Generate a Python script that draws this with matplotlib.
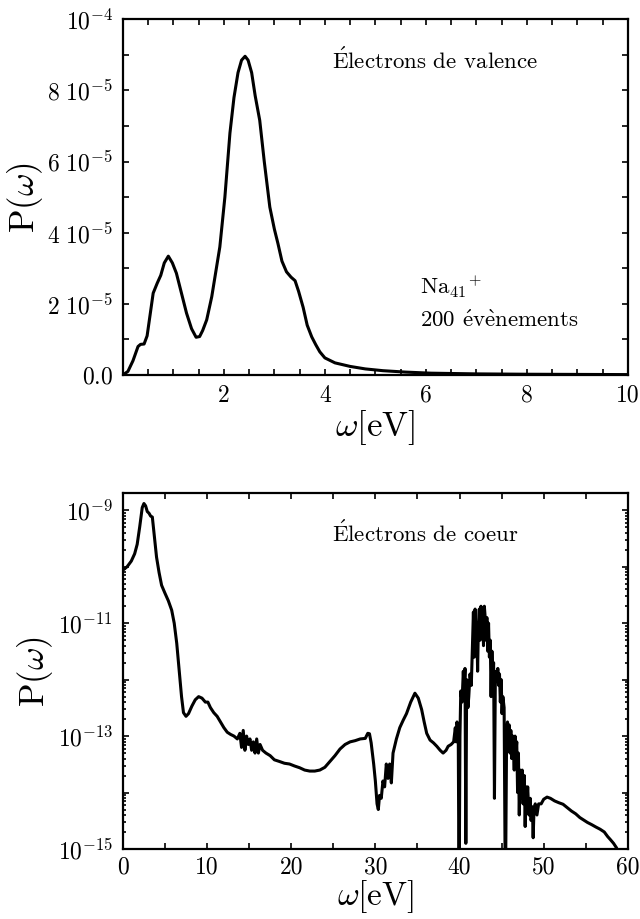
import matplotlib
matplotlib.use("Agg")
import matplotlib.pyplot as plt
from matplotlib.ticker import MultipleLocator, LogLocator, NullFormatter

plt.rcParams['font.family'] = 'serif'
plt.rcParams['font.serif'] = ['cmr10', 'DejaVu Serif']
plt.rcParams['mathtext.fontset'] = 'cm'
plt.rcParams['axes.unicode_minus'] = False

# valence electrons, linear spectrum
w_val = [0.0, 0.1, 0.2, 0.3, 0.35, 0.42, 0.48, 0.55, 0.6, 0.68, 0.75, 0.82, 0.9,
         0.98, 1.06, 1.16, 1.26, 1.36, 1.45, 1.52, 1.58, 1.66, 1.76, 1.84, 1.92,
         2.02, 2.12, 2.2, 2.28, 2.35, 2.42, 2.48, 2.55, 2.62, 2.71, 2.8, 2.91,
         3.0, 3.07, 3.15, 3.24, 3.33, 3.41, 3.48, 3.57, 3.65, 3.74, 3.82, 3.9,
         4.0, 4.2, 4.5, 4.8, 5.15, 5.6, 6.1, 7.0, 8.0, 9.0, 10.0]
p_val = [0.0, 0.1e-5, 0.4e-5, 0.8e-5, 0.86e-5, 0.87e-5, 1.1e-5, 1.8e-5, 2.3e-5,
         2.58e-5, 2.8e-5, 3.15e-5, 3.34e-5, 3.15e-5, 2.86e-5, 2.3e-5, 1.74e-5,
         1.3e-5, 1.06e-5, 1.08e-5, 1.25e-5, 1.55e-5, 2.2e-5, 2.9e-5, 3.6e-5,
         5.0e-5, 6.8e-5, 7.8e-5, 8.5e-5, 8.85e-5, 8.96e-5, 8.85e-5, 8.5e-5,
         7.85e-5, 7.16e-5, 6.0e-5, 4.72e-5, 4.1e-5, 3.7e-5, 3.2e-5, 2.9e-5,
         2.75e-5, 2.65e-5, 2.35e-5, 1.9e-5, 1.4e-5, 1.07e-5, 0.85e-5, 0.65e-5,
         0.48e-5, 0.34e-5, 0.24e-5, 0.17e-5, 0.12e-5, 0.08e-5, 0.05e-5,
         0.03e-5, 0.02e-5, 0.015e-5, 0.01e-5]

# core electrons, log spectrum
w_core = [0.0, 0.5, 1.0, 1.4, 1.7, 2.0, 2.3, 2.5, 2.7, 2.9, 3.1, 3.3, 3.5, 3.7,
          4.0, 4.3, 4.6, 5.0, 5.4, 5.8, 6.1, 6.4, 6.7, 6.97, 7.2, 7.5, 7.8,
          8.2, 8.6, 9.0, 9.4, 9.8, 10.1, 10.4, 10.8, 11.2, 11.6, 12.0, 12.4,
          12.8, 13.2, 13.6, 13.9, 14.1, 14.3, 14.5, 14.7, 14.9, 15.1, 15.3,
          15.5, 15.7, 15.9, 16.1, 16.3, 16.6, 17.0, 17.5, 18.0, 18.6, 19.2,
          19.8, 20.4, 21.0, 21.6, 22.2, 22.8, 23.4, 24.0, 24.6, 25.2, 25.8,
          26.4, 27.0, 27.6, 28.2, 28.8, 29.1, 29.3, 29.5, 29.8, 30.0, 30.2,
          30.35, 30.5, 30.7, 30.9, 31.1, 31.3, 31.5, 31.7, 31.9, 32.1, 32.5,
          32.9, 33.3, 33.7, 34.2, 34.7, 35.1, 35.5, 35.8, 36.1, 36.5, 36.9,
          37.3, 37.7, 38.05, 38.4, 38.65, 39.0, 39.3, 39.5, 39.6, 39.7, 39.85,
          39.95, 40.05, 40.15, 40.3, 40.45, 40.55, 40.65, 40.75, 40.85, 41.0,
          41.1, 41.25, 41.4, 41.55, 41.65, 41.75, 41.85, 41.95, 42.05, 42.15,
          42.25, 42.35, 42.45, 42.55, 42.65, 42.75, 42.85, 42.95, 43.05, 43.15,
          43.25, 43.35, 43.45, 43.55, 43.65, 43.75, 43.85, 43.95, 44.05, 44.15,
          44.25, 44.35, 44.45, 44.55, 44.65, 44.75, 44.85, 44.95, 45.05, 45.15,
          45.3, 45.45, 45.6, 45.7, 45.8, 45.9, 46.0, 46.1, 46.2, 46.35, 46.5,
          46.6, 46.7, 46.8, 46.9, 47.0, 47.1, 47.2, 47.35, 47.45, 47.55, 47.7,
          47.8, 47.9, 48.0, 48.1, 48.25, 48.4, 48.5, 48.65, 48.75, 48.85, 49.0,
          49.2, 49.4, 49.7, 50.0, 50.4, 50.8, 51.3, 51.8, 52.3, 52.8, 53.3,
          53.8, 54.3, 54.7, 55.2, 55.7, 56.2, 56.7, 57.2, 57.6, 57.9, 58.3,
          58.65, 59.0]
p_core = [8.7e-11, 1.0e-10, 1.26e-10, 1.7e-10, 2.5e-10, 5.1e-10, 1.12e-9,
          1.32e-9, 1.2e-9, 9.5e-10, 8.9e-10, 7.9e-10, 7.6e-10, 4.0e-10,
          1.48e-10, 7.9e-11, 4.7e-11, 3.4e-11, 2.5e-11, 1.7e-11, 1.0e-11,
          4.4e-12, 1.4e-12, 5.0e-13, 2.6e-13, 2.24e-13, 2.5e-13, 3.4e-13,
          4.4e-13, 5.0e-13, 4.7e-13, 4.0e-13, 4.0e-13, 3.2e-13, 2.6e-13,
          2.24e-13, 1.78e-13, 1.41e-13, 1.17e-13, 1.07e-13, 1.0e-13, 8.9e-14,
          1.12e-13, 6.3e-14, 1.26e-13, 5.6e-14, 1.0e-13, 7.1e-14, 8.9e-14,
          5.6e-14, 7.9e-14, 5.0e-14, 8.9e-14, 5.0e-14, 7.1e-14, 5.6e-14,
          5.0e-14, 4.5e-14, 3.8e-14, 3.55e-14, 3.3e-14, 3.2e-14, 2.95e-14,
          2.75e-14, 2.5e-14, 2.4e-14, 2.4e-14, 2.5e-14, 2.8e-14, 3.55e-14,
          4.5e-14, 5.9e-14, 7.1e-14, 7.9e-14, 8.3e-14, 8.9e-14, 9.1e-14,
          1.12e-13, 1.1e-13, 7.6e-14, 3.2e-14, 1.6e-14, 6.3e-15, 5.0e-15,
          8.9e-15, 7.9e-15, 1.6e-14, 1.26e-14, 3.2e-14, 1.78e-14, 3.2e-14,
          1.48e-14, 5.0e-14, 8.9e-14, 1.41e-13, 1.9e-13, 2.5e-13, 4.0e-13,
          5.75e-13, 4.7e-13, 2.95e-13, 1.78e-13, 1.12e-13, 8.5e-14, 7.6e-14,
          6.6e-14, 5.6e-14, 5.0e-14, 5.6e-14, 6.6e-14, 7.1e-14, 7.9e-14,
          1.41e-13, 7.9e-14, 1.78e-13, 1.0e-13,
          1e-16, 1.0e-13, 6.3e-13, 4.0e-13, 1.41e-12, 6.3e-13, 1.58e-12,
          1.26e-15, 1.0e-12, 3.2e-13, 5.0e-13, 1.26e-12, 7.9e-13, 5.0e-12,
          1.58e-11, 2.5e-12, 1.78e-11, 4.0e-12, 1.0e-11, 1.41e-12, 1.0e-11,
          1.78e-11, 5.0e-12, 2.0e-11, 6.3e-12, 1.58e-11, 4.0e-12, 2.0e-11,
          1.26e-11, 5.0e-12, 1.26e-11, 3.2e-12, 1.0e-11, 2.5e-12, 5.0e-12,
          5.0e-13, 3.2e-12, 1.0e-12, 2.0e-12, 7.9e-15, 7.9e-13, 1.41e-12,
          1.0e-12, 1.58e-12, 7.9e-13, 1.26e-12, 4.0e-13, 1.0e-12, 2.5e-13,
          5.0e-13, 3.2e-13, 1e-16, 1.26e-13, 1.78e-13, 7.9e-14, 1.58e-13,
          5.0e-14, 1.26e-13, 4.0e-14, 1.0e-13, 2.5e-14, 1.0e-13, 5.0e-14,
          7.9e-14, 1.0e-14, 5.0e-14, 4.0e-15, 2.5e-14, 7.9e-15, 2.5e-14,
          6.3e-15, 2.0e-14, 2.5e-15, 1.26e-14, 6.3e-15, 1.26e-14, 4.0e-15,
          7.9e-15, 3.2e-15, 5.6e-15, 1.58e-15, 5.0e-15, 6.3e-15, 4.0e-15,
          6.3e-15, 6.3e-15, 7.6e-15, 8.3e-15, 7.9e-15, 7.1e-15, 6.6e-15,
          6.2e-15, 5.4e-15, 4.7e-15, 4.2e-15, 3.6e-15, 3.3e-15, 2.95e-15,
          2.7e-15, 2.45e-15, 2.24e-15, 2.0e-15, 1.66e-15, 1.48e-15, 1.26e-15,
          1.05e-15, 8e-16]

val_ticks = [0, 2e-5, 4e-5, 6e-5, 8e-5, 1e-4]
val_labels = [r'$0.0$', r'$2\ 10^{-5}$', r'$4\ 10^{-5}$', r'$6\ 10^{-5}$',
              r'$8\ 10^{-5}$', r'$10^{-4}$']
core_ticks = [1e-15, 1e-13, 1e-11, 1e-9]
core_labels = [r'$10^{-15}$', r'$10^{-13}$', r'$10^{-11}$', r'$10^{-9}$']

fig = plt.figure(figsize=(6.4, 9.19), dpi=100)
ax1 = fig.add_axes([0.192, 0.592, 0.789, 0.387])
ax2 = fig.add_axes([0.192, 0.0762, 0.789, 0.387])

for ax in (ax1, ax2):
    for s in ax.spines.values():
        s.set_linewidth(1.6)
    ax.tick_params(which='both', direction='in', top=True, right=True,
                   labelsize=17, width=1.2, pad=7)
    ax.tick_params(which='major', length=4.5)
    ax.tick_params(which='minor', length=4.5)

# top panel
ax1.plot(w_val, p_val, color='black', lw=2.2)
ax1.set_xlim(0, 10)
ax1.set_ylim(0, 1e-4)
ax1.set_xticks([2, 4, 6, 8, 10])
ax1.set_xticklabels(['2', '4', '6', '8', '10'])
ax1.xaxis.set_minor_locator(MultipleLocator(0.5))
ax1.set_yticks(val_ticks)
ax1.set_yticklabels(val_labels)
ax1.yaxis.set_minor_locator(MultipleLocator(1e-5))
ax1.set_xlabel(r'$\omega[\mathrm{eV}]$', fontsize=25, labelpad=1)
ax1.set_ylabel(r'$\mathrm{P}(\omega)$', fontsize=25, labelpad=2)
ax1.text(0.414, 0.885, r'$\mathrm{\acute{E}}$lectrons de valence',
         transform=ax1.transAxes, fontsize=16.5, va='center')
ax1.text(0.588, 0.247, r'Na$_{41}{}^{+}$', transform=ax1.transAxes,
         fontsize=16.5, va='center')
ax1.text(0.588, 0.154, r'200 $\mathrm{\acute{e}}$v$\mathrm{\grave{e}}$nements',
         transform=ax1.transAxes, fontsize=16.5, va='center')

# bottom panel
ax2.plot(w_core, p_core, color='black', lw=2.2)
ax2.set_yscale('log')
ax2.set_xlim(0, 60)
ax2.set_ylim(1e-15, 2e-9)
ax2.set_xticks([0, 10, 20, 30, 40, 50, 60])
ax2.set_xticklabels(['0', '10', '20', '30', '40', '50', '60'])
ax2.xaxis.set_minor_locator(MultipleLocator(5))
ax2.yaxis.set_minor_locator(LogLocator(base=10, subs=range(2, 10), numticks=20))
ax2.yaxis.set_minor_formatter(NullFormatter())
ax2.set_yticks(core_ticks + [1e-14, 1e-12, 1e-10])
ax2.set_yticklabels(core_labels + ['', '', ''])
ax2.tick_params(axis='y', which='minor', length=2.5)
ax2.tick_params(axis='x', pad=5)
ax2.set_xlabel(r'$\omega[\mathrm{eV}]$', fontsize=24, labelpad=0)
ax2.set_ylabel(r'$\mathrm{P}(\omega)$', fontsize=25, labelpad=2)
ax2.text(0.414, 0.888, r'$\mathrm{\acute{E}}$lectrons de coeur',
         transform=ax2.transAxes, fontsize=16.5, va='center')

fig.savefig('out.png', dpi=100)
